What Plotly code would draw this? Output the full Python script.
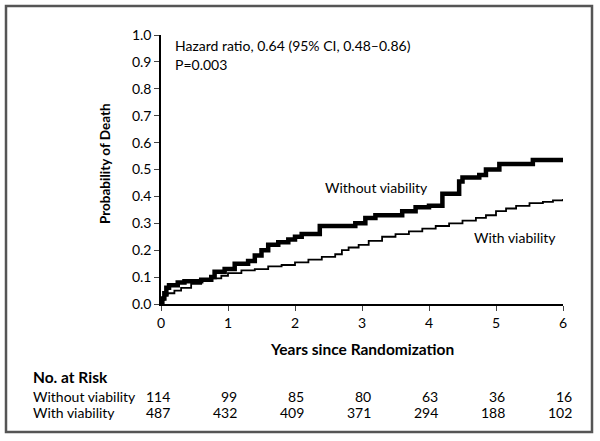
import plotly.graph_objects as go

# Kaplan-Meier step data (years, cumulative probability of death)
without_t = [0, 0.02, 0.05, 0.08, 0.12, 0.25, 0.35, 0.6, 0.75, 0.8, 0.95, 1.1, 1.3, 1.4, 1.5, 1.6,
             1.75, 1.9, 2.0, 2.1, 2.37, 2.9, 3.05, 3.2, 3.6, 3.8, 4.0, 4.2, 4.45, 4.5, 4.75, 4.85,
             5.05, 5.55, 6.0]
without_p = [0, 0.02, 0.04, 0.06, 0.07, 0.08, 0.085, 0.09, 0.10, 0.12, 0.13, 0.15, 0.16, 0.18, 0.20,
             0.22, 0.23, 0.24, 0.25, 0.26, 0.29, 0.30, 0.32, 0.33, 0.345, 0.36, 0.365, 0.41, 0.455,
             0.47, 0.48, 0.50, 0.52, 0.535, 0.535]

with_t = [0, 0.02, 0.05, 0.1, 0.2, 0.3, 0.45, 0.6, 0.75, 0.9, 1.0, 1.2, 1.4, 1.6, 1.8, 2.0, 2.2,
          2.4, 2.6, 2.7, 2.8, 2.95, 3.1, 3.3, 3.5, 3.7, 3.9, 4.1, 4.3, 4.5, 4.7, 4.85, 5.0, 5.15,
          5.3, 5.5, 5.7, 5.85, 6.0]
with_p = [0, 0.015, 0.03, 0.04, 0.05, 0.06, 0.075, 0.085, 0.095, 0.105, 0.115, 0.125, 0.13, 0.14,
          0.145, 0.155, 0.165, 0.175, 0.185, 0.20, 0.21, 0.22, 0.235, 0.25, 0.26, 0.27, 0.28, 0.29,
          0.30, 0.31, 0.32, 0.33, 0.345, 0.355, 0.365, 0.375, 0.38, 0.385, 0.39]

risk_years = [0, 1, 2, 3, 4, 5, 6]
risk_without = [114, 99, 85, 80, 63, 36, 16]
risk_with = [487, 432, 409, 371, 294, 188, 102]
y_ticks = [0.0, 0.1, 0.2, 0.3, 0.4, 0.5, 0.6, 0.7, 0.8, 0.9, 1.0]

FONT = "Lato"
FS = 14
L, R, T, B = 161, 37, 35, 137
W, H = 600, 441
PW, PH = W - L - R, H - T - B

def px(x):
    return (x - L) / PW

def py(y):
    return (H - B - y) / PH

fig = go.Figure()
fig.add_trace(go.Scatter(x=with_t, y=with_p, mode="lines", line=dict(shape="hv", color="black", width=1.8),
                         showlegend=False))
fig.add_trace(go.Scatter(x=without_t, y=without_p, mode="lines", line=dict(shape="hv", color="black", width=4.5),
                         showlegend=False))

ann = []
ann.append(dict(text="Hazard ratio, 0.64 (95% CI, 0.48–0.86)", x=px(173), y=py(45), xanchor="left", yanchor="middle"))
ann.append(dict(text="P=0.003", x=px(173), y=py(64), xanchor="left", yanchor="middle"))
ann.append(dict(text="Without viability", x=px(323), y=py(187), xanchor="left", yanchor="middle"))
ann.append(dict(text="With viability", x=px(472), y=py(237), xanchor="left", yanchor="middle"))
ann.append(dict(text="<b>Probability of Death</b>", x=px(105), y=py(164), textangle=-90, xanchor="center",
                yanchor="middle", font=dict(family=FONT, size=13.5, color="black")))
ann.append(dict(text="<b>Years since Randomization</b>", x=px(362), y=py(349), xanchor="center", yanchor="middle",
                font=dict(family=FONT, size=15.5, color="black")))
ann.append(dict(text="<b>No. at Risk</b>", x=px(31), y=py(377), xanchor="left", yanchor="middle",
                font=dict(family=FONT, size=15.5, color="black")))
ann.append(dict(text="Without viability", x=px(31), y=py(396), xanchor="left", yanchor="middle"))
ann.append(dict(text="With viability", x=px(31), y=py(413), xanchor="left", yanchor="middle"))
for a in ann:
    a.setdefault("font", dict(family=FONT, size=FS, color="black"))
    a.update(xref="paper", yref="paper", showarrow=False)
    fig.add_annotation(**a)

for yr, a, b in zip(risk_years, risk_without, risk_with):
    for val, yy in ((a, 396), (b, 413)):
        fig.add_annotation(text=str(val), x=yr, xref="x", y=py(yy), yref="paper", xanchor="right",
                           yanchor="middle", xshift=11, showarrow=False,
                           font=dict(family=FONT, size=FS, color="black"))

fig.add_shape(type="rect", xref="paper", yref="paper", x0=px(6), x1=px(592), y0=py(432), y1=py(6),
              line=dict(color="#555555", width=2.5), fillcolor="rgba(0,0,0,0)", layer="above")

fig.update_layout(
    width=W, height=H, margin=dict(l=L, r=R, t=T, b=B),
    plot_bgcolor="white", paper_bgcolor="white",
    font=dict(family=FONT, size=FS, color="black"),
    xaxis=dict(range=[0, 6], tickvals=risk_years, ticks="outside", ticklen=5, tickwidth=1.2,
               showline=True, linecolor="black", linewidth=1.5, showgrid=False, zeroline=False,
               tickfont=dict(family=FONT, size=FS)),
    yaxis=dict(range=[0, 1], tickvals=y_ticks, ticktext=[f"{v:.1f}" for v in y_ticks], ticks="outside",
               ticklen=5, tickwidth=1.2, showline=True, linecolor="black", linewidth=1.5,
               showgrid=False, zeroline=False, tickfont=dict(family=FONT, size=FS)),
)

fig.write_html("out.html", config={"displayModeBar": False},
               post_script="document.body.style.margin='0';")
